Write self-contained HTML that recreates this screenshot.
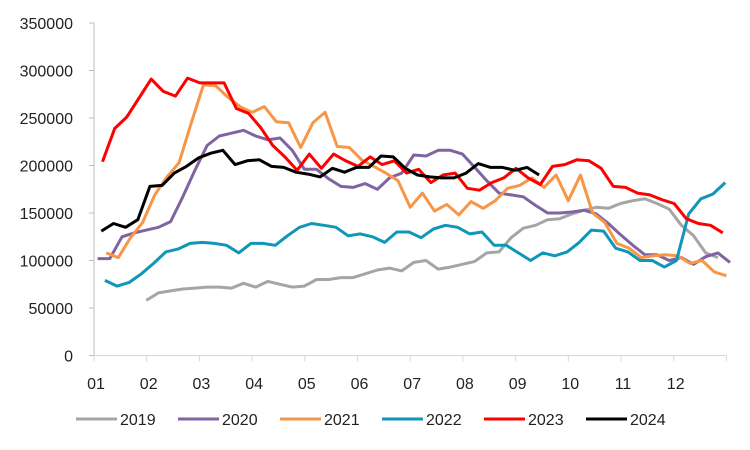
<!DOCTYPE html>
<html><head><meta charset="utf-8">
<style>
html,body{margin:0;padding:0;background:#fff;}
svg{display:block;font-family:"Liberation Sans",sans-serif;}
</style></head>
<body>
<svg id="chart" width="750" height="450" viewBox="0 0 750 450"></svg>
<script>
const yTicks = [0,50000,100000,150000,200000,250000,300000,350000];
const months = ["01","02","03","04","05","06","07","08","09","10","11","12"];
const seriesNames = ["2019","2020","2021","2022","2023","2024"];
const seriesColors = ["#a5a5a5","#8064a2","#f79646","#0f96b8","#ff0000","#000000"];
const startWeeks = [4.3,0.3,1.0,0.9,0.7,0.6];
const s2019 = [58,66,68,70,71,72,72,71,76,72,78,75,72,73,80,80,82,82,86,90,92,89,98,100,91,93,96,99,108,109,124,134,137,143,144,149,153,156,155,160,163,165,160,154,137,126,108,103];
const s2020 = [102,102,125,129,132,135,141,167,195,221,231,234,237,231,227,229,216,196,196,186,178,177,181,175,187,192,211,210,216,216,212,198,184,171,169,167,158,150,150,151,153,149,139,127,116,106,106,100,103,96,104,108,98];
const s2021 = [108,103,124,140,169,188,203,245,285,284,272,262,256,262,246,245,219,245,256,220,219,206,199,192,184,156,171,152,159,148,162,155,163,176,179,187,177,190,163,190,150,140,118,113,103,105,106,105,97,100,88,84];
const s2022 = [79,73,77,86,97,109,112,118,119,118,116,108,118,118,116,126,135,139,137,135,126,128,125,119,130,130,124,133,137,135,128,130,116,116,108,100,108,105,109,119,132,131,113,109,100,100,93,100,149,165,170,182];
const s2023 = [204,239,251,271,291,278,273,292,287,287,287,260,255,240,221,209,195,212,197,212,205,199,209,201,205,192,196,182,190,192,176,174,182,187,197,187,180,199,201,206,205,197,178,177,171,169,164,160,144,139,137,129];
const s2024 = [131,139,135,143,178,179,192,199,208,213,216,201,205,206,199,198,193,191,188,197,193,198,198,210,209,197,190,188,187,187,192,202,198,198,195,198,190];
const seriesData = [s2019,s2020,s2021,s2022,s2023,s2024];

const NS="http://www.w3.org/2000/svg";
const svg=document.getElementById('chart');
const X0=94, MONTH=52.7, WEEK=MONTH*12/52;
const Y0=355.5, YTOP=23;
const xMonth = m => X0 + m*MONTH;
const xWeek = w => X0 + w*WEEK;
const yScale = v => Y0 - v/350000*(Y0-YTOP);
function mk(tag,attrs,parent){const e=document.createElementNS(NS,tag);for(const k in attrs)e.setAttribute(k,attrs[k]);(parent||svg).appendChild(e);return e;}

const yAxis=mk('line',{x1:X0,y1:YTOP,x2:X0,y2:Y0,stroke:'#bfbfbf','stroke-width':1});


yTicks.forEach(t=>{
  const y=yScale(t);
  const tk=mk('line',{x1:X0-5,y1:y,x2:X0,y2:y,stroke:'#bfbfbf'});
  
  
  const tx=mk('text',{x:73,y:y+6,'text-anchor':'end','font-size':16,fill:'#222'});
  tx.textContent=String(t);
  
  
});
const xAxis=mk('line',{x1:X0,y1:Y0,x2:xMonth(12),y2:Y0,stroke:'#d9d9d9','stroke-width':1});


for(let m=0;m<=12;m++){
  const tk=mk('line',{x1:xMonth(m),y1:Y0,x2:xMonth(m),y2:Y0+6,stroke:'#d9d9d9'});
  
  
}
months.forEach((mo,i)=>{
  const tx=mk('text',{x:xMonth(i)+2,y:389,'text-anchor':'middle','font-size':16,fill:'#222'});
  tx.textContent=mo;
  
  
});
seriesData.forEach((arr,si)=>{
  const pts=arr.map((v,i)=>xWeek(startWeeks[si]+i).toFixed(1)+','+yScale(v*1000).toFixed(1)).join(' ');
  const pl=mk('polyline',{points:pts,fill:'none',stroke:seriesColors[si],'stroke-width':3,'stroke-linejoin':'round'});
  
  
});
seriesNames.forEach((n,i)=>{
  const lx=76+i*102;
  const g=mk('g',{});
  
  
  mk('line',{x1:lx,y1:419,x2:lx+41,y2:419,stroke:seriesColors[i],'stroke-width':3},g);
  const t=mk('text',{x:lx+44,y:425,'font-size':16,fill:'#222'},g);
  t.textContent=n;
});
</script>
</body></html>
